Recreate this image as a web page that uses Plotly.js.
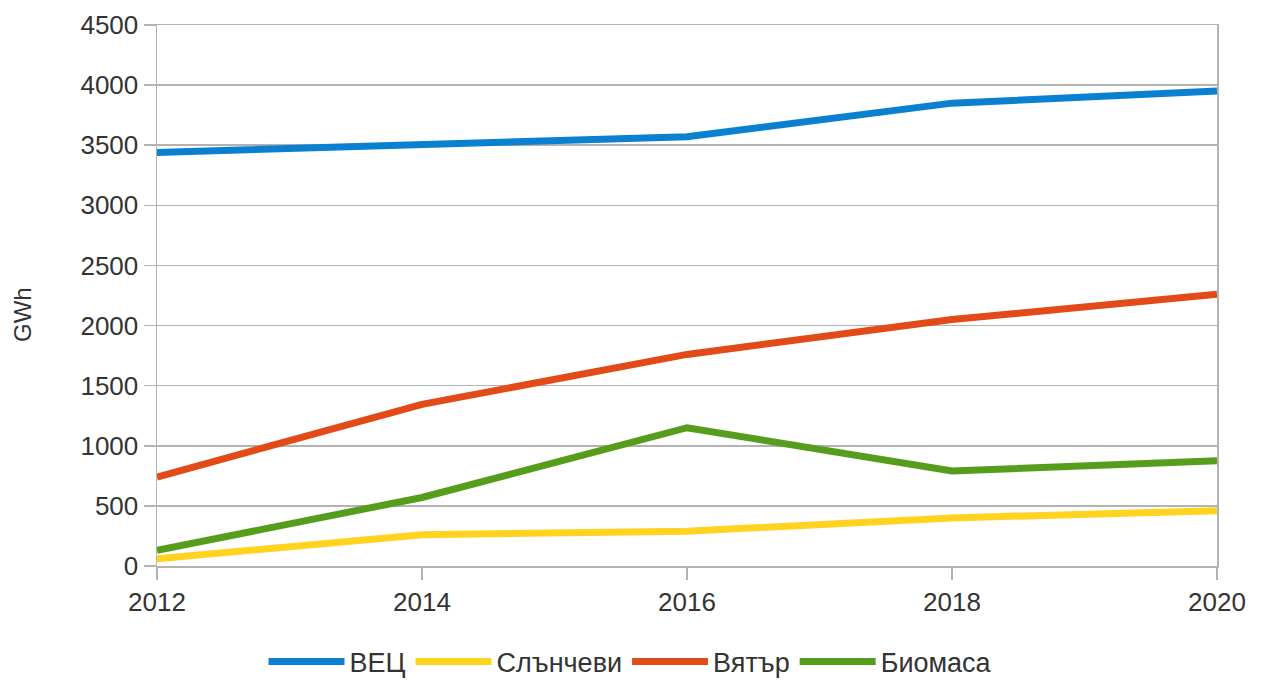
<!DOCTYPE html>
<html>
<head>
<meta charset="utf-8">
<script src="https://cdn.plot.ly/plotly-3.0.1.min.js"></script>
<style>html,body{margin:0;padding:0;background:#fff;}#chart{width:1261px;height:681px;}</style>
</head>
<body>
<div id="chart"></div>
<script>
const years = [2012, 2014, 2016, 2018, 2020];
const seriesNames = ["ВЕЦ", "Слънчеви", "Вятър", "Биомаса"];
const hydro = [3440, 3510, 3570, 3850, 3950];
const solar = [60, 260, 290, 400, 460];
const wind = [740, 1345, 1760, 2050, 2260];
const biomass = [130, 570, 1150, 790, 875];
const colors = ["#0a80d0", "#ffd320", "#e24a18", "#579d1c"];
const yTicks = [0, 500, 1000, 1500, 2000, 2500, 3000, 3500, 4000, 4500];
const yTitle = "GWh";

const allValues = [hydro, solar, wind, biomass];
const traces = allValues.map((v, i) => ({
  x: years, y: v, name: seriesNames[i], type: "scatter", mode: "lines",
  line: {color: colors[i], width: 7}
}));

const layout = {
  width: 1261, height: 681,
  margin: {l: 157, r: 44, t: 25, b: 115},
  paper_bgcolor: "#fff", plot_bgcolor: "#fff",
  font: {family: "Liberation Sans, Arial, sans-serif", color: "#333", size: 26},
  showlegend: true,
  legend: {orientation: "h", x: 0.5, xanchor: "center", xref: "container",
           y: 0.028, yanchor: "middle", yref: "container",
           font: {size: 27, color: "#333"}, itemwidth: 76, tracegroupgap: 0},
  xaxis: {
    range: [2012, 2020], tickvals: years, ticktext: years.map(String),
    showgrid: false, zeroline: false,
    showline: true, linecolor: "#b3b3b3", linewidth: 1.5, mirror: true,
    ticks: "outside", ticklen: 12, tickcolor: "#b3b3b3", tickwidth: 1.5,
    tickfont: {size: 26, color: "#333"}
  },
  yaxis: {
    range: [0, 4500], tickvals: yTicks, ticktext: yTicks.map(String),
    showgrid: true, gridcolor: "#b3b3b3", gridwidth: 1.5, zeroline: false,
    showline: true, linecolor: "#b3b3b3", linewidth: 1.5, mirror: true,
    ticks: "outside", ticklen: 12, tickcolor: "#b3b3b3", tickwidth: 1.5,
    tickfont: {size: 26, color: "#333"}
  },
  annotations: [{
    text: yTitle, xref: "paper", yref: "paper", x: -0.1264, y: 0.464,
    xanchor: "center", yanchor: "middle", textangle: -90, showarrow: false,
    font: {size: 24, color: "#333"}
  }]
};

Plotly.newPlot("chart", traces, layout, {displayModeBar: false, staticPlot: true});
</script>
</body>
</html>
